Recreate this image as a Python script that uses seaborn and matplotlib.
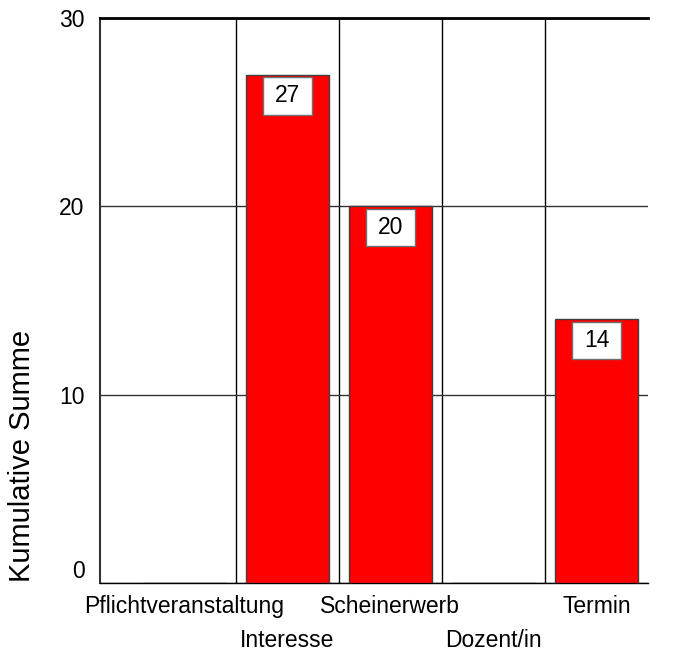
import matplotlib
matplotlib.use("Agg")
import matplotlib.pyplot as plt
import seaborn as sns
import pandas as pd
from matplotlib.patches import Rectangle

# data
categories = ["Pflichtveranstaltung", "Interesse", "Scheinerwerb", "Dozent/in", "Termin"]
values = [0, 27, 20, 0, 14]
y_ticks = [0, 10, 20, 30]

sns.set_style("white")
plt.rcParams["font.family"] = ["Liberation Sans", "DejaVu Sans"]
plt.rcParams["text.color"] = "black"
plt.rcParams["axes.labelcolor"] = "black"
plt.rcParams["xtick.color"] = "black"
plt.rcParams["ytick.color"] = "black"

df = pd.DataFrame({"Grund": categories, "Summe": values})

fig = plt.figure(figsize=(6.75, 6.52), dpi=100)
ax = fig.add_axes([0.148, 0.106, 0.812, 0.866])

sns.barplot(data=df, x="Grund", y="Summe", order=categories, color="#ff0000",
            saturation=1, width=0.8, edgecolor="#404040", linewidth=1, ax=ax, zorder=3)

ax.set_xlim(-0.82, 4.5)
ax.set_ylim(0, 30)
ax.set_yticks(y_ticks)
ax.set_yticklabels([str(t) for t in y_ticks], fontsize=16.5)

# vertical separators between categories
ax.set_xticks([i + 0.5 for i in range(len(categories) - 1)], minor=True)
ax.tick_params(axis="x", which="minor", length=0)
ax.grid(True, which="minor", axis="x", color="black", linewidth=1, zorder=0)
ax.grid(True, which="major", axis="y", color="#333333", linewidth=1, zorder=0)
ax.grid(False, which="major", axis="x")
ax.set_axisbelow(True)

# staggered category labels: even ones as tick labels, odd ones one row lower
ax.set_xticks(range(len(categories)))
ax.set_xticklabels([c if i % 2 == 0 else "" for i, c in enumerate(categories)], fontsize=16.5)
for i, c in enumerate(categories):
    if i % 2 == 1:
        ax.annotate(c, xy=(i, 0), xycoords=("data", "axes fraction"),
                    xytext=(0, -41.5), textcoords="offset points",
                    ha="center", va="center", fontsize=16.5)
ax.tick_params(axis="x", which="major", length=5, width=1, pad=4, direction="out")
ax.tick_params(axis="y", length=6, width=1, pad=5, direction="out")
ax.get_yticklabels()[0].set_va("bottom")

ax.set_xlabel("")
ax.set_ylabel("Kumulative Summe", fontsize=21)
ax.yaxis.set_label_coords(-0.117, 0.225)

ax.spines["right"].set_visible(False)
ax.spines["top"].set_linewidth(2)
ax.spines["top"].set_color("black")
ax.spines["left"].set_linewidth(1.5)
ax.spines["left"].set_color("#333333")
ax.spines["bottom"].set_linewidth(1)
ax.spines["bottom"].set_color("black")

# value boxes at bar tops
box_w, box_h = 0.475, 2.0
for i, v in enumerate(values):
    if v <= 0:
        continue
    ax.add_patch(Rectangle((i - box_w / 2, v - 0.12 - box_h), box_w, box_h,
                           facecolor="white", edgecolor="#707070", linewidth=1, zorder=4))
    ax.text(i, v - 0.12 - box_h / 2, str(v), ha="center", va="center",
            fontsize=16.5, zorder=5)

fig.savefig("out.png", dpi=100)
